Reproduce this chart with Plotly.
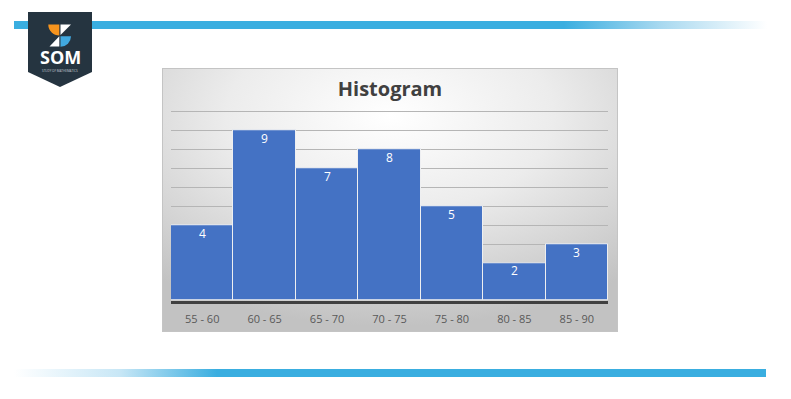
import base64
import plotly.graph_objects as go

# ---- data ----
categories = ["55 - 60", "60 - 65", "65 - 70", "70 - 75", "75 - 80", "80 - 85", "85 - 90"]
frequencies = [4, 9, 7, 8, 5, 2, 3]
chart_title = "Histogram"

# page body has an 8px margin: the figure is shifted by OFF, so work in page pixels minus OFF
OFF = 8
W, H = 791 - OFF, 399 - OFF


def px(x):
    return (x - OFF) / W


def py(y):
    return 1 - (y - OFF) / H


# ---- decorative background (panel gradient, blue rules, logo shield) ----
svg = f'''<svg xmlns="http://www.w3.org/2000/svg" width="{W}" height="{H}" viewBox="{OFF} {OFF} {W} {H}" preserveAspectRatio="none">
<defs>
<radialGradient id="pg" cx="50%" cy="18%" r="80%">
<stop offset="0" stop-color="#ffffff"/>
<stop offset="0.45" stop-color="#ececec"/>
<stop offset="1" stop-color="#c2c2c2"/>
</radialGradient>
<linearGradient id="tb" x1="0" x2="1" y1="0" y2="0">
<stop offset="0" stop-color="#3aaee0"/>
<stop offset="0.73" stop-color="#3aaee0"/>
<stop offset="0.86" stop-color="#a9d9f0"/>
<stop offset="1" stop-color="#ffffff"/>
</linearGradient>
<linearGradient id="bb" x1="0" x2="1" y1="0" y2="0">
<stop offset="0" stop-color="#ffffff"/>
<stop offset="0.14" stop-color="#c8e7f6"/>
<stop offset="0.27" stop-color="#3aaee0"/>
<stop offset="1" stop-color="#3aaee0"/>
</linearGradient>
</defs>
<rect x="14" y="21" width="753" height="8" fill="url(#tb)"/>
<rect x="14" y="369" width="752" height="8" fill="url(#bb)"/>
<rect x="162.5" y="68.5" width="455" height="263" fill="url(#pg)" stroke="#c4c4c4" stroke-width="1"/>
<path d="M28,12 L92,12 L92,72 L60,87 L28,72 Z" fill="#253440"/>
<path d="M59.3,24.5 L59.3,35.5 A11,11 0 0 1 48.3,24.5 Z" fill="#f7941d"/>
<path d="M60.5,24.5 L71,24.5 L60.5,35 Z" fill="#ffffff"/>
<path d="M59.3,36.3 L59.3,46.5 L49.5,46.5 Z" fill="#ffffff"/>
<path d="M60.5,36.3 L71,36.3 A10.5,10.5 0 0 1 60.5,46.8 Z" fill="#41a9e0"/>
</svg>'''
svg_uri = "data:image/svg+xml;base64," + base64.b64encode(svg.encode()).decode()

UNIT = 18.9          # pixels per count
Y_MAX = 10.5
fig = go.Figure()
fig.add_trace(go.Bar(
    x=categories,
    y=frequencies,
    marker=dict(color="#4472c4", line=dict(color="rgba(242,242,242,0.95)", width=1)),
    hoverinfo="skip",
))

# value labels inside the top of each bar
for c, v in zip(categories, frequencies):
    fig.add_annotation(x=c, y=v, text=str(v), showarrow=False, xref="x", yref="y",
                       yanchor="middle", yshift=-8,
                       font=dict(color="#ffffff", size=12, family="Open Sans"))

fig.update_layout(
    width=W, height=H,
    margin=dict(l=0, r=0, t=0, b=0),
    paper_bgcolor="#ffffff",
    plot_bgcolor="rgba(0,0,0,0)",
    bargap=0,
    showlegend=False,
    images=[dict(source=svg_uri, xref="paper", yref="paper", x=0, y=1,
                 sizex=1, sizey=1, xanchor="left", yanchor="top",
                 sizing="stretch", layer="below")],
    title=dict(text=f"<b>{chart_title}</b>", x=px(390), y=py(89),
               xanchor="center", yanchor="middle",
               font=dict(family="Open Sans", size=20, color="#404040")),
    xaxis=dict(domain=[px(171), px(608)], showline=True, linecolor="#404040",
               linewidth=2.5, ticks="", showgrid=False, ticklabelstandoff=6,
               tickfont=dict(family="Open Sans", size=11, color="#595959")),
    yaxis=dict(domain=[py(300.7), py(300.7 - Y_MAX * UNIT)], range=[0, Y_MAX],
               tickvals=list(range(1, 11)), showgrid=True, gridcolor="#b5b5b5", gridwidth=1,
               zeroline=False, showticklabels=False, ticks=""),
)

fig.add_annotation(text="<b>SOM</b>", x=px(60), y=py(57), xref="paper", yref="paper",
                   showarrow=False, xanchor="center", yanchor="middle",
                   font=dict(family="Open Sans", size=18, color="#ffffff"))
fig.add_annotation(text="STUDY OF MATHEMATICS", x=px(60), y=py(71), xref="paper", yref="paper",
                   showarrow=False, xanchor="center", yanchor="middle",
                   font=dict(family="Open Sans", size=3, color="#c8d0d8"))

fig.write_html("out.html")
